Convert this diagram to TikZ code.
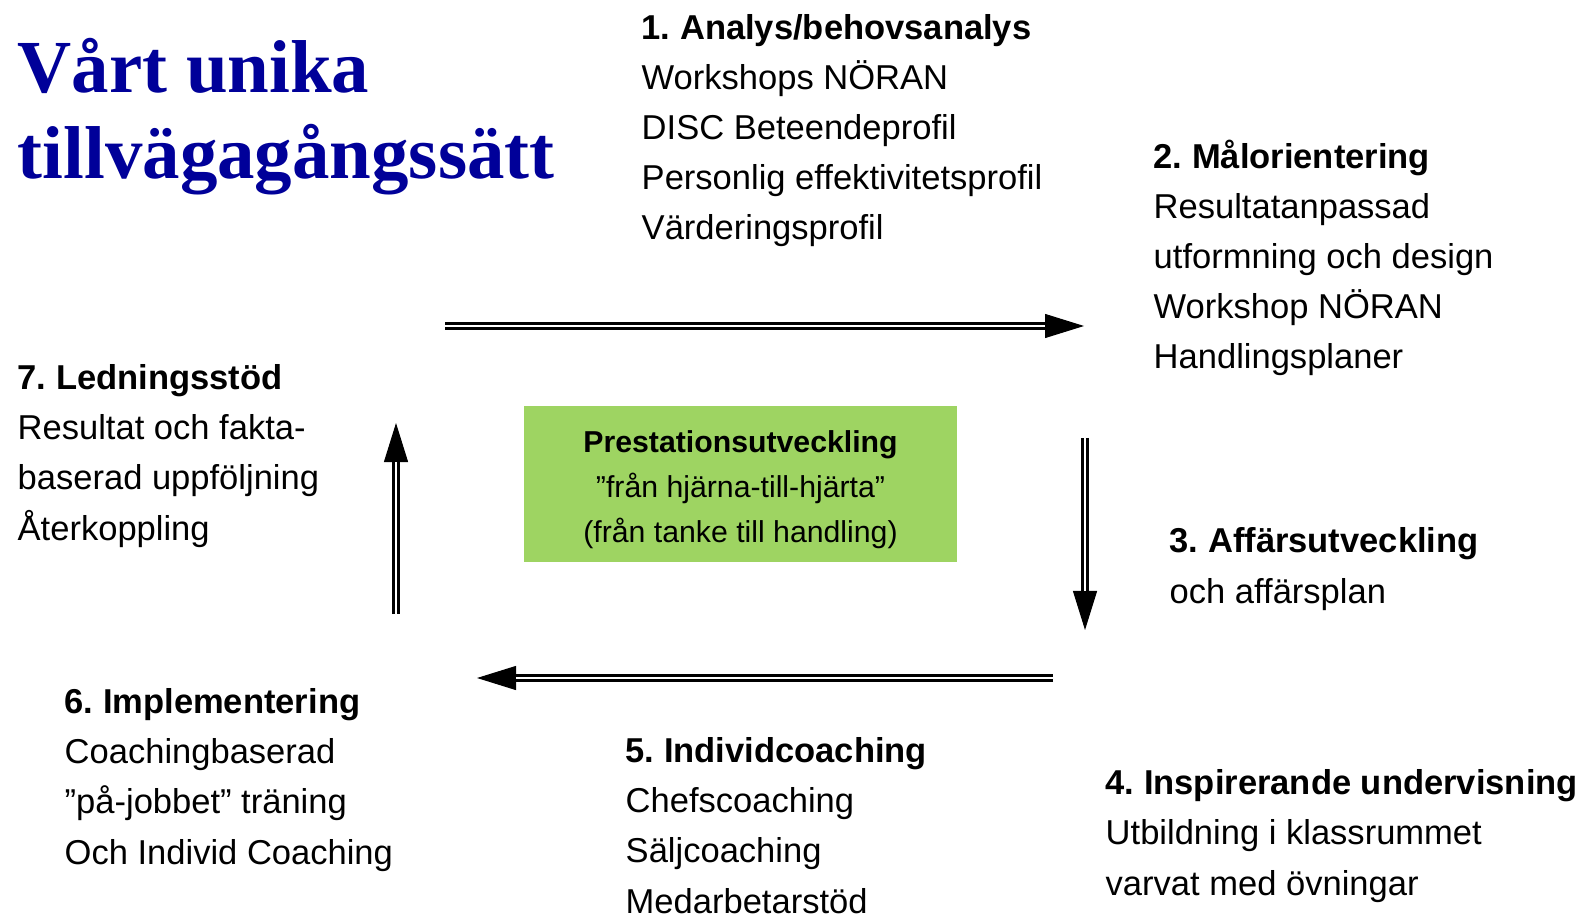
\documentclass[tikz,border=0pt]{standalone}
\usepackage{fontspec}
\setmainfont{Liberation Sans}
\newfontfamily\titlefont{Liberation Serif}
\usetikzlibrary{arrows.meta}
\frenchspacing
\definecolor{titleblue}{RGB}{0,0,153}
\definecolor{coregreen}{RGB}{158,212,98}
\def\stagefont{\fontsize{9.82pt}{14.23pt}\selectfont}
\def\corefont{\fontsize{8.6pt}{12.8pt}\selectfont}
\def\flowarrow(#1)(#2){\draw[flowhead] (#1) -- (#2); \draw[flowbody] (#1) -- (#2);}
\tikzset{
  stage/.style={anchor=base west, align=left, inner sep=0pt, font=\stagefont},
  flowhead/.style={-{Triangle[length=0.39cm,width=0.24cm]}, line width=0.3pt},
  flowbody/.style={double, double distance=0.025cm, line width=0.025cm, shorten >=0.39cm},
}

\begin{document}
\begin{tikzpicture}[x=0.01cm, y=-0.01cm]
			%%%%% START %%%%%
			\useasboundingbox (0,0) rectangle (1586,919);
			
			% nodes sit on the baseline of their last line
			\node[anchor=base west, align=left, inner sep=0pt, text=titleblue,
			      font=\titlefont\bfseries\fontsize{21.3pt}{24.5pt}\selectfont] (title) at (17, 179) {Vårt unika\\tillvägagångssätt};
			
			\node[stage] (analys) at (641, 240) {\textbf{1. Analys/behovsanalys}\\Workshops NÖRAN\\DISC Beteendeprofil\\Personlig effektivitetsprofil\\Värderingsprofil};
			\node[stage] (mal) at (1153, 369) {\textbf{2. Målorientering}\\Resultatanpassad\\utformning och design\\Workshop NÖRAN\\Handlingsplaner};
			\node[stage] (affar) at (1169, 603) {\textbf{3. Affärsutveckling}\\och affärsplan};
			\node[stage] (inspir) at (1105, 895) {\textbf{4. Inspirerande undervisning}\\Utbildning i klassrummet\\varvat med övningar};
			\node[stage] (individ) at (625, 913) {\textbf{5. Individcoaching}\\Chefscoaching\\Säljcoaching\\Medarbetarstöd};
			\node[stage] (impl) at (64, 864) {\textbf{6. Implementering}\\Coachingbaserad\\”på-jobbet” träning\\Och Individ Coaching};
			\node[stage] (ledning) at (17, 540) {\textbf{7. Ledningsstöd}\\Resultat och fakta-\\baserad uppföljning\\Återkoppling};
			
			\node[fill=coregreen, minimum width=4.33cm, minimum height=1.56cm, inner sep=0pt,
			      align=center, font=\corefont] (core) at (740.5, 484) {\rule{0pt}{0.34cm}\textbf{Prestationsutveckling}\\”från hjärna-till-hjärta”\\(från tanke till handling)};
			
			\coordinate (topS) at (445, 326);
			\coordinate (topE) at (1084, 326);
			\coordinate (rightS) at (1085, 438);
			\coordinate (rightE) at (1085, 630);
			\coordinate (botS) at (1053, 678);
			\coordinate (botE) at (477, 678);
			\coordinate (leftS) at (396, 614);
			\coordinate (leftE) at (396, 423);
			
			\flowarrow(topS)(topE)
			\flowarrow(rightS)(rightE)
			\flowarrow(botS)(botE)
			\flowarrow(leftS)(leftE)
			%%%%% END %%%%%
\end{tikzpicture}
\end{document}
